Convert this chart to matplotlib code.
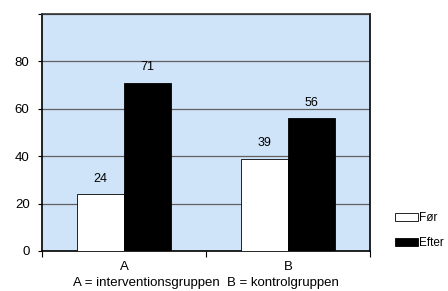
import numpy as np
import matplotlib.pyplot as plt

plt.rcParams['font.family'] = ['Liberation Sans', 'DejaVu Sans']

categories = ['A', 'B']
foer = [24, 39]
efter = [71, 56]
series_names = ['Før', 'Efter']
xlabel_text = 'A = interventionsgruppen  B = kontrolgruppen'

fig = plt.figure(figsize=(4.48, 2.91), dpi=100)
ax = fig.add_axes([0.094, 0.1375, 0.732, 0.8145])
ax.set_facecolor('#cfe4f8')

x = np.arange(len(categories))
w = 0.287
b1 = ax.bar(x - w / 2, foer, w, color='white', edgecolor='black', linewidth=0.6,
            label=series_names[0], zorder=3)
b2 = ax.bar(x + w / 2, efter, w, color='black', edgecolor='black', linewidth=0.6,
            label=series_names[1], zorder=3)

for bars, vals in [(b1, foer), (b2, efter)]:
    for r, v in zip(bars, vals):
        ax.text(r.get_x() + r.get_width() / 2, v + 4, str(v), ha='center',
                va='bottom', fontsize=9, zorder=4)

ax.set_xlim(-0.5, 1.5)
ax.set_ylim(0, 100)
ax.set_yticks([0, 20, 40, 60, 80, 100])
ax.set_yticklabels(['0', '20', '40', '60', '80', ''])
ax.yaxis.grid(True, color='#606060', linewidth=0.9, zorder=1)
ax.set_axisbelow(True)

ax.set_xticks([-0.5, 0.5, 1.5])
ax.set_xticklabels(['', '', ''])
ax.set_xticks(x, minor=True)
ax.set_xticklabels(categories, minor=True)
ax.tick_params(axis='x', which='minor', length=0, pad=7, labelsize=9.5)
ax.tick_params(axis='x', which='major', length=4, width=0.8, direction='out')
ax.tick_params(axis='y', length=3, width=0.8, labelsize=9.5, pad=6)

for s in ['left', 'bottom', 'right']:
    ax.spines[s].set_linewidth(1.2)
    ax.spines[s].set_color('black')
ax.spines['top'].set_color('#333333')
ax.spines['top'].set_linewidth(1.2)

ax.set_xlabel(xlabel_text, fontsize=9.5, labelpad=3)

fig.legend(loc='lower left', bbox_to_anchor=(0.868, 0.125), frameon=False,
           fontsize=8.5, handlelength=1.95, handleheight=0.68, handletextpad=0.1,
           labelspacing=1.05, borderpad=0)

fig.savefig('out.png', dpi=100)
